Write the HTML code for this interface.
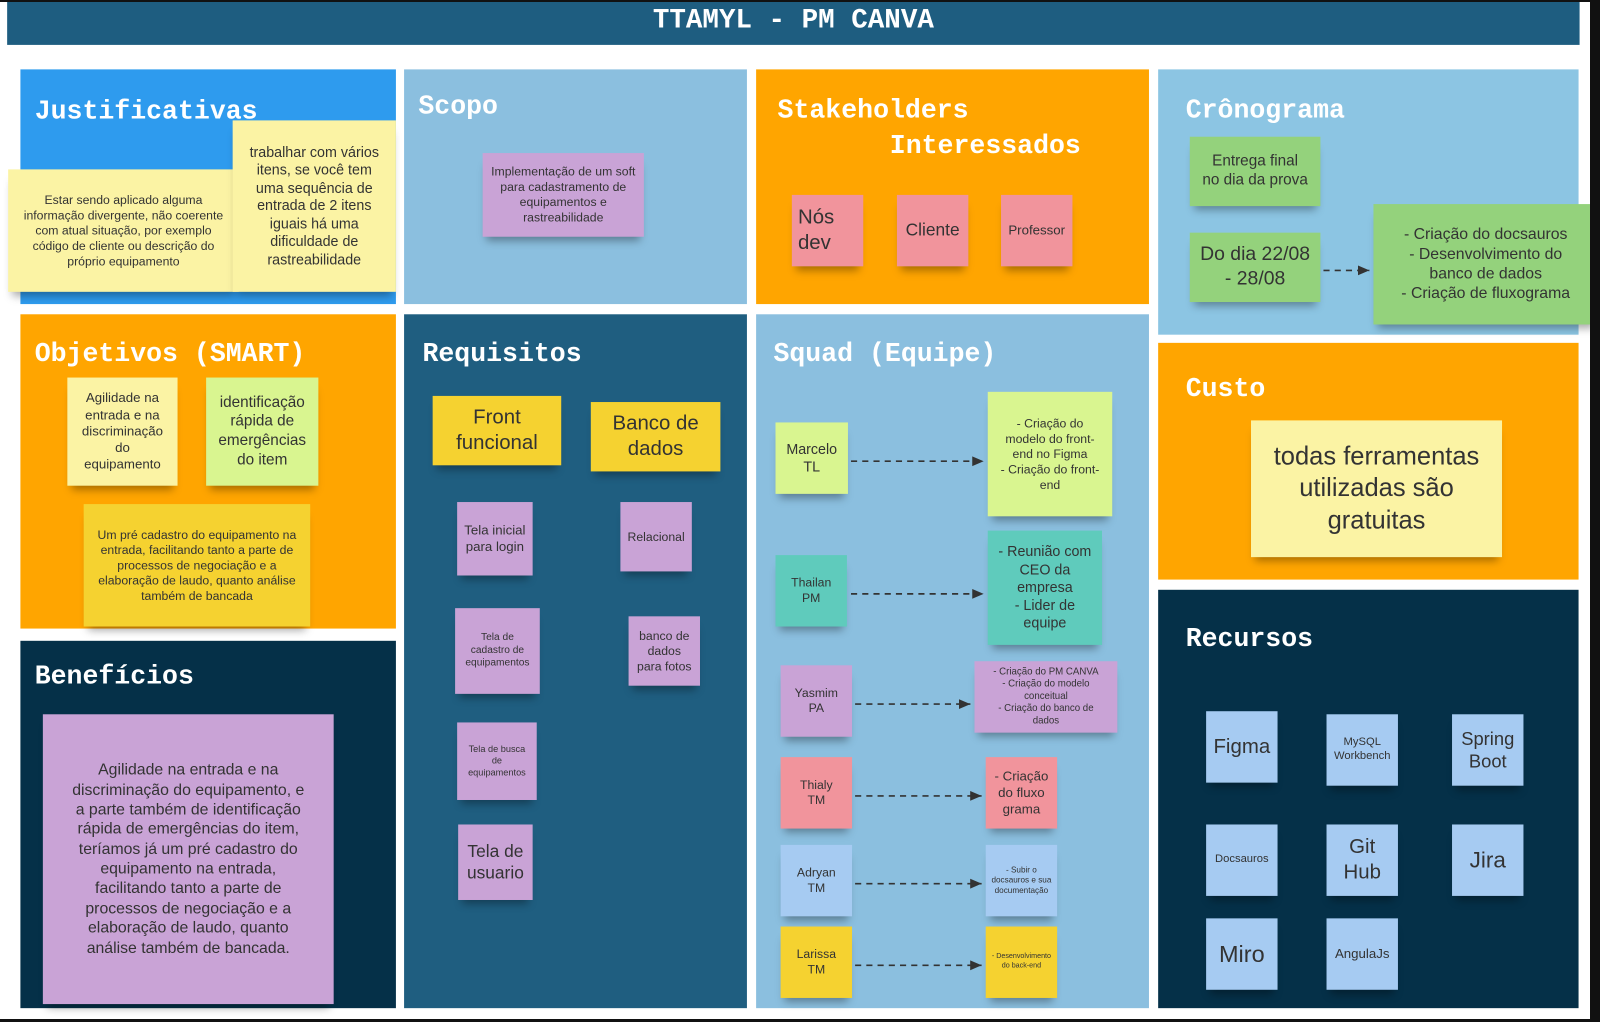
<!DOCTYPE html>
<html><head><meta charset="utf-8"><style>
html,body{margin:0;padding:0;background:#fff;width:1600px;height:1022px;overflow:hidden;position:relative}
#w{position:absolute;left:0;top:0;width:1568px;height:1002px;transform:scale(1.0204);transform-origin:0 0;font-family:"Liberation Sans","DejaVu Sans",sans-serif}
.p{position:absolute}
.h{position:absolute;font-family:"Liberation Mono",monospace;font-weight:bold;color:#fff;font-size:26px;white-space:nowrap}
.s{position:absolute;display:flex;align-items:center;justify-content:center;text-align:center;color:#333;box-shadow:0 8px 8px -4px rgba(0,0,0,.35);line-height:1.25;box-sizing:border-box;padding:3px}
.y{background:#fbf3a4}.pu{background:#c9a3d6}.pk{background:#f1949c}.g{background:#94d27c}.ye{background:#f5d230}.lg{background:#d9f590}.tl{background:#5fcbbc}.lb{background:#a6cbf2}
svg{position:absolute;left:0;top:0}
</style></head><body><div id="w">
<div class="p" style="left:7px;top:0;width:1541px;height:44px;background:#1e5d80"></div>
<div class="h" style="left:0;width:1555px;top:6px;text-align:center;font-size:27px">TTAMYL - PM CANVA</div>

<div class="p" style="left:20px;top:68px;width:368px;height:230px;background:#2e9bee"></div>
<div class="p" style="left:396px;top:68px;width:336px;height:230px;background:#8bbfdf"></div>
<div class="p" style="left:741px;top:68px;width:385px;height:230px;background:#ffa500"></div>
<div class="p" style="left:1135px;top:68px;width:412px;height:260px;background:#8cc5e3"></div>
<div class="p" style="left:20px;top:308px;width:368px;height:308px;background:#ffa500"></div>
<div class="p" style="left:396px;top:308px;width:336px;height:680px;background:#1f5e80"></div>
<div class="p" style="left:741px;top:308px;width:385px;height:680px;background:#8bbfdf"></div>
<div class="p" style="left:1135px;top:336px;width:412px;height:232px;background:#ffa500"></div>
<div class="p" style="left:20px;top:628px;width:368px;height:360px;background:#053048"></div>
<div class="p" style="left:1135px;top:578px;width:412px;height:410px;background:#053048"></div>

<div class="h" style="left:34px;top:94px">Justificativas</div>
<div class="h" style="left:410px;top:89px">Scopo</div>
<div class="h" style="left:762px;top:93px">Stakeholders</div>
<div class="h" style="left:872px;top:128px">Interessados</div>
<div class="h" style="left:1162px;top:93px">Crônograma</div>
<div class="h" style="left:34px;top:332px">Objetivos (SMART)</div>
<div class="h" style="left:414px;top:332px">Requisitos</div>
<div class="h" style="left:758px;top:332px">Squad (Equipe)</div>
<div class="h" style="left:1162px;top:366px">Custo</div>
<div class="h" style="left:34px;top:648px">Benefícios</div>
<div class="h" style="left:1162px;top:611px">Recursos</div>

<div class="s y" style="left:8px;top:166px;width:226px;height:120px;font-size:12px;padding:3px 12px">Estar sendo aplicado alguma informação divergente, não coerente com atual situação, por exemplo código de cliente ou descrição do próprio equipamento</div>
<div class="s y" style="left:228px;top:118px;width:160px;height:168px;font-size:14px;padding:3px 12px">trabalhar com vários itens, se você tem uma sequência de entrada de 2 itens iguais há uma dificuldade de rastreabilidade</div>
<div class="s pu" style="left:473px;top:150px;width:158px;height:82px;font-size:12px;padding:3px 8px">Implementação de um soft para cadastramento de equipamentos e rastreabilidade</div>
<div class="s pk" style="left:776px;top:191px;width:70px;height:70px;font-size:20px;justify-content:flex-start;text-align:left;padding-left:6px">Nós<br>dev</div>
<div class="s pk" style="left:879px;top:191px;width:70px;height:70px;font-size:17px">Cliente</div>
<div class="s pk" style="left:981px;top:191px;width:70px;height:70px;font-size:13px">Professor</div>
<div class="s g" style="left:1166px;top:134px;width:128px;height:68px;font-size:15px">Entrega final<br>no dia da prova</div>
<div class="s g" style="left:1166px;top:228px;width:128px;height:68px;font-size:19px">Do dia 22/08<br>- 28/08</div>
<div class="s g" style="left:1346px;top:200px;width:220px;height:118px;font-size:15.5px;padding:3px 14px">- Criação do docsauros<br>- Desenvolvimento do banco de dados<br>- Criação de fluxograma</div>

<div class="s y" style="left:66px;top:370px;width:108px;height:106px;font-size:13px;padding:3px 8px">Agilidade na entrada e na discriminação do equipamento</div>
<div class="s lg" style="left:202px;top:370px;width:110px;height:106px;font-size:15px">identificação rápida de emergências do item</div>
<div class="s ye" style="left:82px;top:494px;width:222px;height:120px;font-size:12px;padding:3px 10px">Um pré cadastro do equipamento na entrada, facilitando tanto a parte de processos de negociação e a elaboração de laudo, quanto análise também de bancada</div>
<div class="s pu" style="left:42px;top:700px;width:285px;height:284px;font-size:15.5px;padding:10px 28px">Agilidade na entrada e na discriminação do equipamento, e a parte também de identificação rápida de emergências do item, teríamos já um pré cadastro do equipamento na entrada, facilitando tanto a parte de processos de negociação e a elaboração de laudo, quanto análise também de bancada.</div>

<div class="s ye" style="left:424px;top:388px;width:126px;height:68px;font-size:20px">Front<br>funcional</div>
<div class="s ye" style="left:579px;top:394px;width:127px;height:68px;font-size:20px">Banco de<br>dados</div>
<div class="s pu" style="left:448px;top:492px;width:74px;height:72px;font-size:13px">Tela inicial para login</div>
<div class="s pu" style="left:608px;top:492px;width:70px;height:68px;font-size:12px">Relacional</div>
<div class="s pu" style="left:446px;top:596px;width:83px;height:84px;font-size:10px;padding:3px 10px">Tela de cadastro de equipamentos</div>
<div class="s pu" style="left:616px;top:604px;width:70px;height:68px;font-size:12px;padding:3px 6px">banco de dados para fotos</div>
<div class="s pu" style="left:448px;top:708px;width:78px;height:76px;font-size:9px;padding:3px 8px">Tela de busca de equipamentos</div>
<div class="s pu" style="left:449px;top:808px;width:73px;height:74px;font-size:17px">Tela de usuario</div>

<div class="s lg" style="left:760px;top:414px;width:71px;height:70px;font-size:14px">Marcelo<br>TL</div>
<div class="s lg" style="left:968px;top:384px;width:122px;height:122px;font-size:12px;padding:3px 10px">- Criação do modelo do front-end no Figma<br>- Criação do front-end</div>
<div class="s tl" style="left:760px;top:544px;width:70px;height:70px;font-size:12px">Thailan<br>PM</div>
<div class="s tl" style="left:968px;top:520px;width:112px;height:112px;font-size:14px;padding:3px 10px">- Reunião com CEO da empresa<br>- Lider de equipe</div>
<div class="s pu" style="left:765px;top:652px;width:70px;height:70px;font-size:12px">Yasmim<br>PA</div>
<div class="s pu" style="left:955px;top:648px;width:140px;height:70px;font-size:9.5px;padding:3px 10px">- Criação do PM CANVA<br>- Criação do modelo conceitual<br>- Criação do banco de dados</div>
<div class="s pk" style="left:765px;top:742px;width:70px;height:70px;font-size:12px">Thialy<br>TM</div>
<div class="s pk" style="left:966px;top:742px;width:70px;height:70px;font-size:13px">- Criação do fluxo grama</div>
<div class="s lb" style="left:765px;top:828px;width:70px;height:70px;font-size:12px">Adryan<br>TM</div>
<div class="s lb" style="left:966px;top:828px;width:70px;height:70px;font-size:8px">- Subir o docsauros e sua documentação</div>
<div class="s ye" style="left:765px;top:908px;width:70px;height:70px;font-size:12px">Larissa<br>TM</div>
<div class="s ye" style="left:966px;top:908px;width:70px;height:70px;font-size:7px">- Desenvolvimento do back-end</div>

<div class="s y" style="left:1226px;top:412px;width:246px;height:134px;font-size:25px;padding:3px 14px">todas ferramentas utilizadas são gratuitas</div>

<div class="s lb" style="left:1182px;top:697px;width:70px;height:70px;font-size:20px">Figma</div>
<div class="s lb" style="left:1300px;top:700px;width:70px;height:70px;font-size:11px">MySQL Workbench</div>
<div class="s lb" style="left:1423px;top:700px;width:70px;height:70px;font-size:18px">Spring<br>Boot</div>
<div class="s lb" style="left:1182px;top:808px;width:70px;height:70px;font-size:11px">Docsauros</div>
<div class="s lb" style="left:1300px;top:808px;width:70px;height:70px;font-size:20px">Git<br>Hub</div>
<div class="s lb" style="left:1423px;top:808px;width:70px;height:70px;font-size:22px">Jira</div>
<div class="s lb" style="left:1182px;top:900px;width:70px;height:70px;font-size:23px">Miro</div>
<div class="s lb" style="left:1300px;top:900px;width:70px;height:70px;font-size:13px">AngulaJs</div>

<svg width="1568" height="1002">
<defs><marker id="a" markerWidth="8" markerHeight="8" refX="7" refY="4" orient="auto"><path d="M0,1 L7,4 L0,7z" fill="#333"/></marker></defs>
<g stroke="#333" stroke-width="1.6" stroke-dasharray="6,5" fill="none" marker-end="url(#a)">
<line x1="1297" y1="265" x2="1342" y2="265"/>
<line x1="834" y1="452" x2="964" y2="452"/>
<line x1="834" y1="582" x2="964" y2="582"/>
<line x1="838" y1="690" x2="951" y2="690"/>
<line x1="838" y1="780" x2="962" y2="780"/>
<line x1="838" y1="866" x2="962" y2="866"/>
<line x1="838" y1="946" x2="962" y2="946"/>
</g></svg>
</div>
<div style="position:absolute;left:1590px;top:0;width:10px;height:1022px;background:#111"></div>
<div style="position:absolute;left:0;top:1019px;width:1600px;height:3px;background:#111"></div>
<div style="position:absolute;left:0;top:0;width:1600px;height:2px;background:#111"></div>
</body></html>
